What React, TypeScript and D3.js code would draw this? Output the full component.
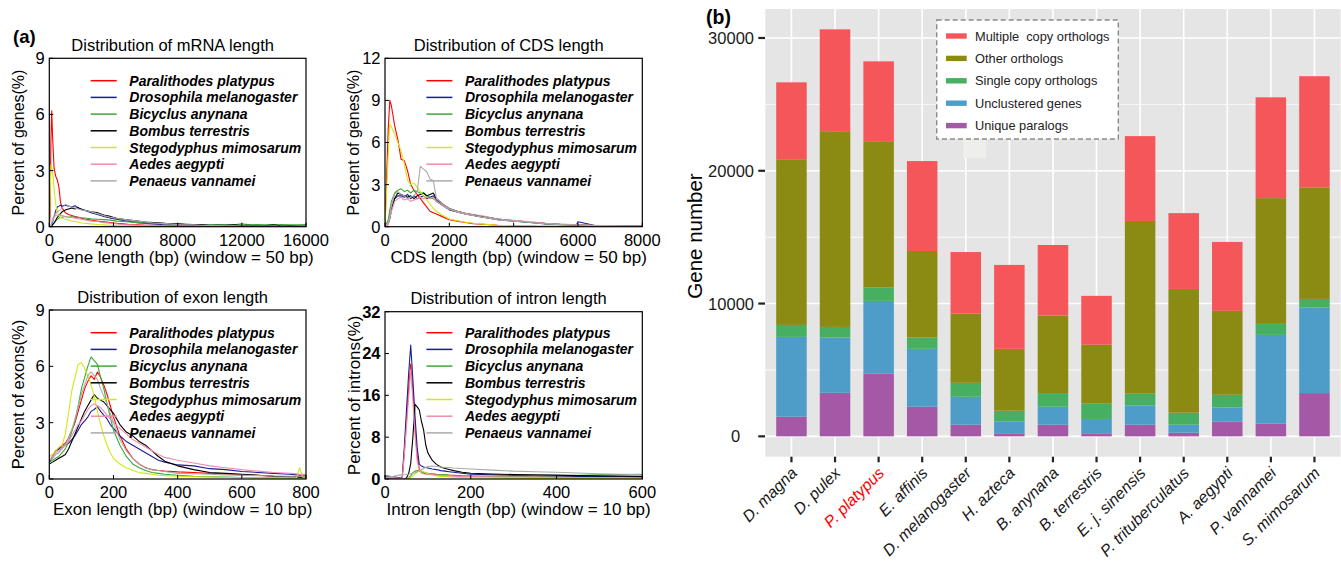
import * as d3 from 'd3';

const FONT = '"Liberation Sans", Arial, Helvetica, sans-serif';

// ---- panel (a): length distributions, one row per species ----
const SPECIES = [
  'Paralithodes platypus',
  'Drosophila melanogaster',
  'Bicyclus anynana',
  'Bombus terrestris',
  'Stegodyphus mimosarum',
  'Aedes aegypti',
  'Penaeus vannamei',
];
const SPECIES_COLORS = ['#ff0000', '#1c1c96', '#3aaa35', '#000000', '#d2e812', '#f08cb0', '#aaaaaa'];

const MRNA_LEN = [
  0, 50, 100, 150, 200, 300, 400, 500, 600, 700, 800, 1000, 1200, 1400, 1600, 1800, 2000, 2300, 2600,
  3000, 3400, 3800, 4200, 4600, 5000, 5500, 6000, 6500, 7000, 7500, 8000, 8500, 9000, 9500, 10000,
  10500, 11000, 11500, 12000, 12500, 13000, 13500, 14000, 14500, 15000, 15500, 16000,
];
const MRNA_PCT = [
  [0, 0.6, 4.6, 6.2, 4.9, 3.1, 2.7, 2.5, 2.1, 1.3, 1.0, 0.75, 0.65, 0.6, 0.55, 0.5, 0.45, 0.4, 0.36, 0.3, 0.26, 0.22, 0.18, 0.15,
    0.12, 0.1, 0.08, 0.07, 0.06, 0.05, 0.05, 0.04, 0.04, 0.03, 0.03, 0.03, 0.02, 0.02, 0.02, 0.02, 0.02, 0.02, 0.02, 0.01, 0.01, 0.01, 0.01],
  [0, 0, 0.05, 0.1, 0.25, 0.55, 0.85, 1.05, 1.1, 1.15, 1.1, 1.15, 1.1, 1.05, 1.12, 1.0, 0.95, 0.85, 0.75, 0.65, 0.55, 0.46, 0.4, 0.33,
    0.28, 0.22, 0.18, 0.15, 0.12, 0.1, 0.08, 0.07, 0.06, 0.05, 0.04, 0.04, 0.03, 0.03, 0.03, 0.02, 0.02, 0.02, 0.02, 0.02, 0.02, 0.01, 0.01],
  [0, 0, 0, 0.05, 0.1, 0.2, 0.3, 0.4, 0.45, 0.5, 0.5, 0.55, 0.5, 0.55, 0.5, 0.5, 0.48, 0.45, 0.42, 0.4, 0.38, 0.35, 0.3, 0.28,
    0.25, 0.22, 0.2, 0.2, 0.18, 0.15, 0.15, 0.14, 0.12, 0.12, 0.1, 0.12, 0.1, 0.1, 0.15, 0.1, 0.12, 0.1, 0.1, 0.12, 0.1, 0.1, 0.12],
  [0, 0, 0, 0.05, 0.1, 0.2, 0.35, 0.5, 0.6, 0.7, 0.8, 0.9, 0.95, 1.0, 0.95, 1.02, 0.92, 0.85, 0.8, 0.75, 0.62, 0.55, 0.45, 0.4,
    0.35, 0.3, 0.25, 0.22, 0.2, 0.16, 0.15, 0.12, 0.1, 0.12, 0.08, 0.08, 0.07, 0.1, 0.06, 0.07, 0.05, 0.06, 0.1, 0.04, 0.05, 0.04, 0.03],
  [0, 1.6, 3.3, 3.2, 3.0, 2.0, 1.2, 0.8, 0.6, 0.5, 0.45, 0.4, 0.35, 0.3, 0.28, 0.25, 0.2, 0.18, 0.15, 0.12, 0.1, 0.08, 0.06, 0.05,
    0.04, 0.03, 0.03, 0.02, 0.02, 0.02, 0.02, 0.01, 0.01, 0.01, 0.01, 0.01, 0.01, 0.01, 0.01, 0.01, 0.01, 0.01, 0.01, 0.01, 0.01, 0.01, 0.01],
  [0, 0, 0.1, 0.2, 0.3, 0.5, 0.6, 0.62, 0.65, 0.6, 0.6, 0.55, 0.5, 0.5, 0.45, 0.42, 0.4, 0.35, 0.3, 0.28, 0.22, 0.2, 0.15, 0.12,
    0.1, 0.08, 0.07, 0.06, 0.05, 0.04, 0.04, 0.03, 0.03, 0.03, 0.02, 0.02, 0.02, 0.02, 0.02, 0.02, 0.01, 0.01, 0.01, 0.01, 0.01, 0.01, 0.01],
  [0, 0, 0.05, 0.2, 0.4, 0.6, 0.7, 0.8, 0.85, 0.9, 1.0, 1.2, 1.1, 1.05, 1.0, 0.95, 0.9, 0.85, 0.8, 0.7, 0.6, 0.5, 0.45, 0.4,
    0.35, 0.3, 0.25, 0.2, 0.18, 0.15, 0.12, 0.1, 0.1, 0.08, 0.07, 0.06, 0.05, 0.05, 0.04, 0.04, 0.03, 0.03, 0.03, 0.02, 0.02, 0.02, 0.02],
];

const CDS_LEN = [
  0, 100, 150, 200, 300, 400, 500, 600, 700, 800, 900, 1000, 1100, 1200, 1300, 1400, 1500, 1600, 1800, 2000,
  2250, 2500, 2750, 3000, 3250, 3500, 3750, 4000, 4250, 4500, 4750, 5000, 5500, 5950, 6000, 6500, 7000, 7500, 8000,
];
const CDS_PCT = [
  [0, 7, 9.0, 8.6, 7.2, 6.2, 4.8, 4.7, 4.0, 3.0, 2.6, 2.3, 2.0, 1.7, 1.4, 1.1, 1.0, 0.9, 0.7, 0.5,
    0.4, 0.3, 0.22, 0.18, 0.14, 0.1, 0.08, 0.06, 0.05, 0.04, 0.03, 0.03, 0.02, 0.02, 0.02, 0.01, 0.01, 0.01, 0.01],
  [0, 0.3, 0.8, 1.3, 2.0, 2.2, 2.2, 2.1, 2.3, 2.0, 2.2, 2.0, 2.1, 2.2, 2.0, 2.1, 2.2, 1.9, 1.5, 1.2,
    1.05, 0.9, 0.8, 0.7, 0.6, 0.5, 0.45, 0.4, 0.35, 0.3, 0.25, 0.2, 0.15, 0.12, 0.35, 0.1, 0.07, 0.05, 0.04],
  [0, 0.5, 1.2, 1.8, 2.4, 2.6, 2.7, 2.5, 2.6, 2.4, 2.6, 2.5, 2.4, 2.4, 2.2, 2.1, 2.0, 1.8, 1.5, 1.25,
    1.05, 0.9, 0.8, 0.7, 0.6, 0.52, 0.45, 0.4, 0.35, 0.32, 0.3, 0.22, 0.15, 0.12, 0.12, 0.08, 0.06, 0.04, 0.03],
  [0, 0.2, 0.6, 1.2, 2.0, 2.4, 2.3, 2.2, 2.1, 2.2, 2.0, 2.2, 2.3, 2.4, 2.2, 2.3, 2.4, 2.0, 1.6, 1.3,
    1.1, 0.95, 0.85, 0.75, 0.65, 0.55, 0.5, 0.42, 0.38, 0.32, 0.28, 0.22, 0.16, 0.12, 0.14, 0.08, 0.06, 0.04, 0.03],
  [0, 5, 7.3, 7.1, 6.6, 6.0, 5.4, 4.5, 3.3, 3.0, 3.1, 2.8, 2.5, 2.2, 1.9, 1.6, 1.3, 1.1, 0.8, 0.55,
    0.42, 0.32, 0.25, 0.2, 0.15, 0.1, 0.08, 0.06, 0.05, 0.04, 0.03, 0.02, 0.02, 0.01, 0.01, 0.01, 0.01, 0.01, 0.01],
  [0, 0.2, 0.6, 1.1, 1.8, 2.0, 2.1, 1.9, 2.0, 1.8, 1.9, 2.0, 2.1, 2.0, 2.1, 2.0, 2.1, 1.8, 1.5, 1.25,
    1.1, 0.95, 0.85, 0.8, 0.65, 0.55, 0.5, 0.45, 0.4, 0.35, 0.3, 0.25, 0.18, 0.14, 0.14, 0.1, 0.07, 0.05, 0.04],
  [0, 0.3, 0.8, 1.5, 2.3, 2.5, 2.3, 2.2, 2.0, 2.1, 2.2, 2.5, 4.3, 4.1, 3.9, 3.4, 3.3, 2.0, 1.6, 1.3,
    1.05, 0.9, 0.8, 0.7, 0.6, 0.5, 0.45, 0.4, 0.35, 0.3, 0.25, 0.2, 0.15, 0.12, 0.12, 0.08, 0.06, 0.04, 0.03],
];

const EXON_LEN = [
  0, 10, 20, 30, 40, 50, 60, 70, 80, 90, 100, 110, 120, 130, 140, 150, 160, 170, 180, 190, 200,
  220, 240, 260, 280, 300, 320, 340, 360, 400, 450, 500, 550, 600, 650, 700, 750, 770, 780, 790, 800,
];
const EXON_PCT = [
  [0.9, 1.2, 1.5, 1.6, 1.8, 1.9, 2.2, 2.6, 3.0, 3.6, 4.2, 4.8, 5.2, 5.5, 5.3, 5.7, 5.4, 5.0, 4.5, 3.9, 3.3,
    2.3, 1.6, 1.1, 0.8, 0.6, 0.5, 0.45, 0.42, 0.38, 0.35, 0.3, 0.27, 0.22, 0.2, 0.15, 0.12, 0.12, 0.1, 0.1, 0.1],
  [0.9, 1.2, 1.5, 1.6, 1.7, 1.8, 1.9, 2.1, 2.3, 2.6, 2.9, 3.1, 3.3, 3.6, 3.7, 3.85, 3.6, 3.4, 3.2, 2.9, 2.7,
    2.3, 2.0, 1.8, 1.6, 1.4, 1.2, 1.0, 0.9, 0.75, 0.7, 0.55, 0.5, 0.4, 0.35, 0.3, 0.25, 0.22, 0.2, 0.2, 0.2],
  [0.9, 1.0, 1.1, 1.2, 1.4, 1.6, 2.0, 2.5, 3.1, 3.9, 4.8, 5.4, 6.0, 6.5, 6.3, 6.1, 5.4, 4.8, 4.0, 3.3, 2.6,
    1.8, 1.2, 0.8, 0.6, 0.45, 0.35, 0.3, 0.25, 0.2, 0.15, 0.12, 0.1, 0.08, 0.07, 0.06, 0.05, 0.05, 0.05, 0.05, 0.05],
  [0.8, 0.9, 1.0, 1.1, 1.2, 1.3, 1.6, 2.0, 2.4, 2.8, 3.2, 3.6, 3.9, 4.2, 4.5, 4.3, 4.2, 4.1, 3.9, 3.7, 3.5,
    2.9, 2.5, 2.3, 2.0, 1.8, 1.5, 1.2, 0.95, 0.7, 0.5, 0.35, 0.3, 0.25, 0.2, 0.15, 0.12, 0.12, 0.1, 0.1, 0.1],
  [1.2, 1.3, 1.5, 1.7, 1.8, 2.4, 3.5, 4.7, 5.4, 6.1, 6.2, 5.9, 5.5, 5.0, 4.4, 3.6, 2.9, 2.3, 1.8, 1.4, 1.1,
    0.8, 0.6, 0.45, 0.35, 0.3, 0.25, 0.2, 0.18, 0.15, 0.12, 0.1, 0.08, 0.07, 0.06, 0.05, 0.05, 0.05, 0.6, 0.1, 0.1],
  [1.0, 1.2, 1.4, 1.5, 1.7, 1.8, 2.0, 2.3, 2.6, 2.9, 3.1, 3.4, 3.7, 3.9, 4.0, 3.9, 3.8, 3.6, 3.4, 3.2, 3.0,
    2.7, 2.4, 2.1, 1.9, 1.7, 1.5, 1.3, 1.15, 1.0, 0.85, 0.7, 0.6, 0.5, 0.42, 0.35, 0.3, 0.28, 0.25, 0.25, 0.25],
  [1.0, 1.1, 1.3, 1.4, 1.6, 1.8, 2.2, 2.6, 3.2, 3.8, 4.5, 5.0, 5.5, 5.7, 5.5, 5.3, 4.8, 4.4, 4.0, 3.5, 3.0,
    2.1, 1.5, 1.1, 0.8, 0.6, 0.5, 0.45, 0.4, 0.3, 0.28, 0.25, 0.22, 0.2, 0.18, 0.16, 0.15, 0.15, 0.15, 0.15, 0.15],
];

const INTRON_LEN = [
  0, 10, 20, 30, 40, 45, 50, 55, 60, 65, 70, 75, 80, 85, 90, 95, 100, 110, 120, 130, 140, 150, 160,
  180, 200, 250, 300, 350, 400, 450, 500, 550, 600,
];
const INTRON_PCT = [
  [0.1, 0.1, 0.1, 0.1, 0.1, 5, 11, 17, 22, 17, 10, 4.5, 1.8, 1.3, 1.1, 1.0, 0.95, 0.9, 0.85, 0.8, 0.75, 0.7, 0.7,
    0.6, 0.55, 0.5, 0.45, 0.42, 0.4, 0.38, 0.35, 0.32, 0.3],
  [0.6, 0.5, 0.4, 0.3, 0.2, 6, 13, 20, 25.6, 19, 12, 6, 2.8, 2.5, 2.3, 2.2, 2.1, 1.9, 1.8, 1.6, 1.5, 1.4, 1.3,
    1.1, 0.9, 0.8, 0.7, 0.6, 0.55, 0.5, 0.45, 0.42, 0.4],
  [0, 0, 0, 0, 0, 0, 0, 0.2, 0.6, 1.2, 1.5, 1.6, 1.5, 1.4, 1.3, 1.2, 1.1, 1.0, 0.9, 0.85, 0.8, 0.7, 0.65,
    0.55, 0.5, 0.48, 0.5, 0.55, 0.6, 0.7, 0.8, 0.85, 0.9],
  [0.3, 0.2, 0.1, 0.1, 0, 0, 0.2, 1, 3, 8, 14.3, 13.8, 13.2, 11, 9.4, 6.5, 5, 3.6, 2.8, 2.3, 2.0, 1.8, 1.6,
    1.3, 1.1, 0.95, 0.85, 0.8, 0.75, 0.65, 0.6, 0.55, 0.5],
  [0, 0, 0, 0, 0, 0, 0, 0.1, 0.3, 0.6, 1.0, 1.3, 1.5, 1.6, 1.4, 1.2, 1.0, 0.8, 0.6, 0.5, 0.45, 0.4, 0.35,
    0.3, 0.25, 0.2, 0.15, 0.12, 0.1, 0.1, 0.08, 0.06, 0.05],
  [0.3, 0.3, 0.2, 0.2, 0.1, 4.5, 10, 15.5, 21, 15, 8.5, 3.5, 1.6, 1.2, 1.0, 0.9, 0.85, 0.8, 0.75, 0.7, 0.65, 0.6, 0.55,
    0.5, 0.45, 0.4, 0.38, 0.35, 0.33, 0.3, 0.28, 0.26, 0.25],
  [0.3, 0.4, 0.5, 0.7, 0.8, 0.8, 0.9, 0.9, 1.0, 1.1, 1.2, 1.4, 1.6, 1.8, 2.0, 2.2, 2.4, 2.5, 2.4, 2.3, 2.2, 2.2, 2.1,
    2.0, 1.9, 1.7, 1.5, 1.4, 1.3, 1.15, 1.0, 0.9, 0.8],
];

// ---- panel (b): gene family composition per genome ----
const GENOMES = [
  'D. magna', 'D. pulex', 'P. platypus', 'E. affinis', 'D. melanogaster', 'H. azteca', 'B. anynana',
  'B. terrestris', 'E. j. sinensis', 'P. trituberculatus', 'A. aegypti', 'P. vannamei', 'S. mimosarum',
];
const UNIQUE_PARALOGS = [1480, 3280, 4740, 2230, 880, 230, 880, 230, 880, 280, 1100, 950, 3260];
const UNCLUSTERED = [6010, 4160, 5460, 4360, 2100, 900, 1350, 1080, 1450, 600, 1080, 6690, 6440];
const SINGLE_COPY = [900, 800, 1000, 850, 1050, 800, 1030, 1150, 880, 900, 950, 830, 650];
const OTHER_ORTHOLOGS = [12480, 14740, 11030, 6520, 5210, 4660, 5840, 4440, 13010, 9320, 6320, 9470, 8400];
const MULTI_COPY = [5790, 7670, 6010, 6770, 4640, 6320, 5310, 3680, 6390, 5710, 5190, 7590, 8370];

const STACK_KEYS = ['unique', 'unclustered', 'single', 'other', 'multi'];
const LEGEND_KEYS = ['multi', 'other', 'single', 'unclustered', 'unique'];
const GROUP_LABELS: Record<string, string> = {
  multi: 'Multiple  copy orthologs',
  other: 'Other orthologs',
  single: 'Single copy orthologs',
  unclustered: 'Unclustered genes',
  unique: 'Unique paralogs',
};
const GROUP_COLORS: Record<string, string> = {
  multi: '#f5565a',
  other: '#8b8b14',
  single: '#47af62',
  unclustered: '#4e9dc9',
  unique: '#a459a7',
};
const Y_MAJOR = [0, 10000, 20000, 30000];
const Y_MINOR = [5000, 15000, 25000];

type PanelProps = {
  id: string;
  left: number;
  right: number;
  top: number;
  bottom: number;
  xs: number[];
  ys: number[][];
  xTicks: number[];
  yTicks: number[];
  title: string;
  xTitle: string;
  yTitle: string;
  yTitleX: number;
  yTitleSize: number;
  legendTop: number;
  boldY?: boolean;
};

function LinePanel(p: PanelProps) {
  const x = d3.scaleLinear().domain([0, d3.max(p.xTicks)!]).range([p.left, p.right]);
  const y = d3.scaleLinear().domain([0, d3.max(p.yTicks)!]).range([p.bottom, p.top]);
  const line = d3.line<number>().x((_, i) => x(p.xs[i])).y((d) => y(d));
  const midX = (p.left + p.right) / 2;
  const midY = (p.top + p.bottom) / 2;

  return (
    <g fontFamily={FONT}>
      <clipPath id={p.id}>
        <rect x={p.left} y={p.top} width={p.right - p.left} height={p.bottom - p.top} />
      </clipPath>
      <text x={midX - 5} y={p.top - 7.5} textAnchor="middle" fontSize={16.5}>
        {p.title}
      </text>

      <g clipPath={`url(#${p.id})`}>
        {p.ys.map((s, i) => (
          <path key={SPECIES[i]} d={line(s) ?? ''} fill="none" stroke={SPECIES_COLORS[i]} strokeWidth={1.1} strokeLinejoin="round" />
        ))}
      </g>
      <rect x={p.left} y={p.top} width={p.right - p.left} height={p.bottom - p.top} fill="none" stroke="#000" strokeWidth={1.2} />

      {p.yTicks.map((t) => (
        <g key={`y${t}`}>
          <line x1={p.left} x2={p.left + 4} y1={y(t)} y2={y(t)} stroke="#000" />
          <text x={p.left - 4.5} y={y(t)} dy="0.36em" textAnchor="end" fontSize={16.5} fontWeight={p.boldY ? 'bold' : 'normal'}>
            {t}
          </text>
        </g>
      ))}
      {p.xTicks.map((t) => (
        <g key={`x${t}`}>
          <line x1={x(t)} x2={x(t)} y1={p.bottom} y2={p.bottom - 4} stroke="#000" />
          <text x={x(t)} y={p.bottom + 18.8} textAnchor="middle" fontSize={16.5}>
            {t}
          </text>
        </g>
      ))}
      <text x={midX + 5} y={p.bottom + 36} textAnchor="middle" fontSize={17}>
        {p.xTitle}
      </text>
      <text transform={`translate(${p.yTitleX},${midY}) rotate(-90)`} textAnchor="middle" fontSize={p.yTitleSize}>
        {p.yTitle}
      </text>

      {SPECIES.map((name, i) => {
        const ry = p.legendTop + i * 16.7;
        return (
          <g key={name}>
            <line x1={p.left + 41.4} x2={p.left + 67.4} y1={ry} y2={ry} stroke={SPECIES_COLORS[i]} strokeWidth={1.5} />
            <text x={p.left + 80} y={ry + 5} fontSize={14} fontWeight="bold" fontStyle="italic">
              {name}
            </text>
          </g>
        );
      })}
    </g>
  );
}

function GeneBars() {
  const left = 765.3;
  const right = 1340.6;
  const top = 9;
  const bottom = 456.7;

  const rows = GENOMES.map((g, i) => ({
    genome: g,
    unique: UNIQUE_PARALOGS[i],
    unclustered: UNCLUSTERED[i],
    single: SINGLE_COPY[i],
    other: OTHER_ORTHOLOGS[i],
    multi: MULTI_COPY[i],
  }));
  const layers = d3.stack<any>().keys(STACK_KEYS)(rows);
  const maxTotal = d3.max(layers[layers.length - 1], (d) => d[1])!;

  const x = d3.scaleBand().domain(GENOMES).range([left, right]).paddingInner(0).paddingOuter(0.1);
  const y = d3.scaleLinear().domain([-0.05 * maxTotal, 1.05 * maxTotal]).range([bottom, top]);
  const cx = (g: string) => x(g)! + x.bandwidth() / 2;
  const barW = x.bandwidth() * 0.7;

  return (
    <g fontFamily={FONT}>
      <rect x={left} y={top} width={right - left} height={bottom - top} fill="#e5e5e5" />
      {Y_MINOR.map((v) => (
        <line key={`m${v}`} x1={left} x2={right} y1={y(v)} y2={y(v)} stroke="#fff" strokeWidth={0.8} />
      ))}
      {Y_MAJOR.map((v) => (
        <line key={`M${v}`} x1={left} x2={right} y1={y(v)} y2={y(v)} stroke="#fff" strokeWidth={1.6} />
      ))}
      {GENOMES.map((g) => (
        <line key={`v${g}`} x1={cx(g)} x2={cx(g)} y1={top} y2={bottom} stroke="#fff" strokeWidth={1.6} />
      ))}

      {layers.map((layer) => (
        <g key={layer.key} fill={GROUP_COLORS[layer.key]}>
          {layer.map((d) => (
            <rect key={d.data.genome} x={cx(d.data.genome) - barW / 2} y={y(d[1])} width={barW} height={y(d[0]) - y(d[1])} />
          ))}
        </g>
      ))}

      {/* y axis */}
      {Y_MAJOR.map((v) => (
        <g key={`yt${v}`}>
          <line x1={758.3} x2={765} y1={y(v)} y2={y(v)} stroke="#222" strokeWidth={2.2} />
          <text x={754} y={y(v)} dy="0.36em" textAnchor="end" fontSize={16.5} fill="#1a1a1a" style={{ whiteSpace: 'pre' }}>
            {v === 0 ? '0\u00a0\u00a0\u00a0' : v}
          </text>
        </g>
      ))}
      <text transform="translate(701.5,236) rotate(-90)" textAnchor="middle" fontSize={20.5} fill="#000">
        Gene number
      </text>

      {/* x axis */}
      {GENOMES.map((g) => (
        <g key={`xt${g}`}>
          <line x1={cx(g)} x2={cx(g)} y1={bottom} y2={bottom + 5.6} stroke="#222" strokeWidth={2.2} />
          <text
            transform={`translate(${cx(g) + 6.5},474) rotate(-45)`}
            textAnchor="end"
            fontSize={16}
            fontStyle="italic"
            fill={g === 'P. platypus' ? '#ff0000' : '#1a1a1a'}
          >
            {g}
          </text>
        </g>
      ))}

      {/* legend */}
      <rect x={963} y={139.5} width={23} height={18.5} fill="#eeeeeb" />
      <rect x={936.7} y={20} width={181.6} height={119} fill="#fff" stroke="#8a8a8a" strokeWidth={1.4} strokeDasharray="5,3" />
      {LEGEND_KEYS.map((k, i) => {
        const ry = 36 + i * 22.4;
        return (
          <g key={k}>
            <rect x={946} y={ry - 2.7} width={20.7} height={5.4} fill={GROUP_COLORS[k]} />
            <text x={975} y={ry} dy="0.36em" fontSize={12.8} fill="#222" style={{ whiteSpace: 'pre' }}>
              {GROUP_LABELS[k]}
            </text>
          </g>
        );
      })}

      <text x={706} y={23.5} fontSize={19.5} fontWeight="bold">
        (b)
      </text>
    </g>
  );
}

export default function App() {
  return (
    <div style={{ position: 'absolute', left: 0, top: 0 }}>
      <svg width={1341} height={568} viewBox="0 0 1341 568" style={{ display: 'block', background: '#fff' }}>
        <text x={13} y={43} fontFamily={FONT} fontSize={18.5} fontWeight="bold">
          (a)
        </text>
        <LinePanel
          id="clip-mrna"
          left={49.3}
          right={306}
          top={58.3}
          bottom={226.7}
          xs={MRNA_LEN}
          ys={MRNA_PCT}
          xTicks={[0, 4000, 8000, 12000, 16000]}
          yTicks={[0, 3, 6, 9]}
          title="Distribution of mRNA length"
          xTitle="Gene length (bp) (window = 50 bp)"
          yTitle="Percent of genes(%)"
          yTitleX={24}
          yTitleSize={16}
          legendTop={80.7}
        />
        <LinePanel
          id="clip-cds"
          left={385}
          right={642.3}
          top={58.3}
          bottom={226.7}
          xs={CDS_LEN}
          ys={CDS_PCT}
          xTicks={[0, 2000, 4000, 6000, 8000]}
          yTicks={[0, 3, 6, 9, 12]}
          title="Distribution of CDS length"
          xTitle="CDS length (bp) (window = 50 bp)"
          yTitle="Percent of genes(%)"
          yTitleX={359}
          yTitleSize={16}
          legendTop={80.7}
        />
        <LinePanel
          id="clip-exon"
          left={49.3}
          right={306}
          top={310}
          bottom={479}
          xs={EXON_LEN}
          ys={EXON_PCT}
          xTicks={[0, 200, 400, 600, 800]}
          yTicks={[0, 3, 6, 9]}
          title="Distribution of exon length"
          xTitle="Exon length (bp) (window = 10 bp)"
          yTitle="Percent of exons(%)"
          yTitleX={24}
          yTitleSize={16.5}
          legendTop={332.7}
        />
        <LinePanel
          id="clip-intron"
          left={385}
          right={642.3}
          top={311.7}
          bottom={479}
          xs={INTRON_LEN}
          ys={INTRON_PCT}
          xTicks={[0, 200, 400, 600]}
          yTicks={[0, 8, 16, 24, 32]}
          title="Distribution of intron length"
          xTitle="Intron length (bp) (window = 10 bp)"
          yTitle="Percent of introns(%)"
          yTitleX={360}
          yTitleSize={17}
          legendTop={332.7}
          boldY
        />
        <GeneBars />
      </svg>
    </div>
  );
}
